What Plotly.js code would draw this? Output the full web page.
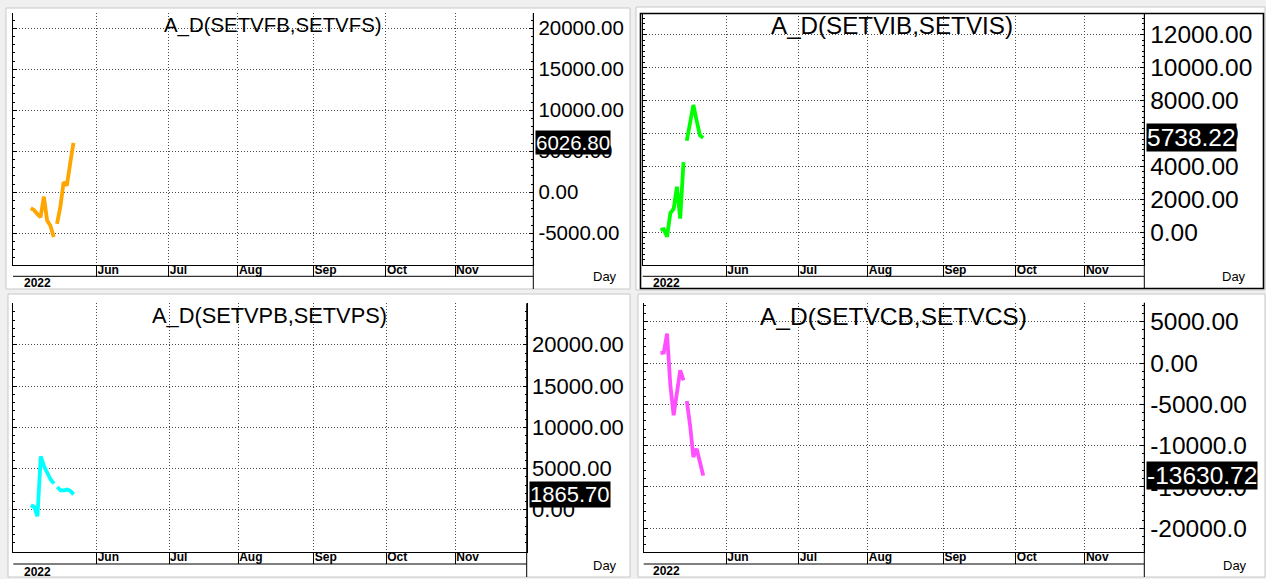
<!DOCTYPE html>
<html><head><meta charset="utf-8">
<script src="https://cdn.plot.ly/plotly-3.0.1.min.js"></script>
<style>html,body{margin:0;padding:0;background:#f0f0f0;overflow:hidden}#chart{width:1266px;height:579px}</style>
</head><body><div id="chart"></div>
<script>
// ---- data ----
const dates = ['2022-05-04','2022-05-05','2022-05-06','2022-05-09','2022-05-10','2022-05-11','2022-05-12',
               '2022-05-13','2022-05-16','2022-05-17','2022-05-18','2022-05-19','2022-05-20','2022-05-23'];
const breakAfter = '2022-05-13';   // line is not drawn between this day and the next
const vfValues = [-1940, -2150, -2630, -3040, -530, -3450, -4090, -5460, -3850, -1820, 1230, 830, 3520, 6026.80];
const viValues = [150, 200, -260, 1170, 1420, 2770, 840, 4260, 5560, 6650, 7730, 6780, 5880, 5738.22];
const vpValues = [545, 340, -790, 6480, 5260, 4380, 3660, 3170, 2760, 2360, 2360, 2450, 2280, 1865.70];
const vcValues = [1210, 1270, 3560, -2700, -6330, -3800, -880, -2100, -4600, -7550, -11380, -10360, -12000, -13630.72];

const titles = ['A_D(SETVFB,SETVFS)', 'A_D(SETVIB,SETVIS)', 'A_D(SETVPB,SETVPS)', 'A_D(SETVCB,SETVCS)'];
const monthTicks = ['2022-06-01','2022-07-01','2022-08-01','2022-09-01','2022-10-03','2022-11-01'];
const monthLabels = ['Jun','Jul','Aug','Sep','Oct','Nov'];
const yearLabel = '2022';
const periodLabel = 'Day';
const vfTicks = [-5000, 0, 5000, 10000, 15000, 20000];
const vfTickText = ['-5000.00','0.00','5000.00','10000.00','15000.00','20000.00'];
const viTicks = [0, 2000, 4000, 6000, 8000, 10000, 12000];
const viTickText = ['0.00','2000.00','4000.00','6000.00','8000.00','10000.00','12000.00'];
const vpTicks = [0, 5000, 10000, 15000, 20000, 25000];
const vpTickText = ['0.00','5000.00','10000.00','15000.00','20000.00',''];
const vcTicks = [-20000, -15000, -10000, -5000, 0, 5000];
const vcTickText = ['-20000.0','-15000.0','-10000.0','-5000.00','0.00','5000.00'];

// ---- layout geometry (pixels) ----
const W = 1266, H = 579;
const fx = p => p / W, fy = p => 1 - p / H;
const FONT = 'Arial, "Liberation Sans", sans-serif';
const GRID = '#4a4a4a', DOTS = '1px,2px';

const panels = [
  {vals: vfValues, ticks: vfTicks, text: vfTickText, color: '#FFA500',
   l: 13, r: 533.3, t: 13, b: 265, band: 276.3, bottom: 289, yr: [-8866, 21866],
   xr: ['2022-04-26 14:53', '2022-12-02 19:12'], tf: 20.5, ttf: 20.4, tx: 272.5, ty: 26,
   minor: 1000, year: [21.7, 283.3], day: [604.7, 276.7], bg: [6, 8, 630, 289]},
  {vals: viValues, ticks: viTicks, text: viTickText, color: '#00FF00',
   l: 642.7, r: 1144.3, t: 13.3, b: 265, band: 276.3, bottom: 288.5, yr: [-1975, 13290],
   xr: ['2022-04-26 14:24', '2022-11-25 01:12'], tf: 24.5, ttf: 24.2, tx: 892.3, ty: 26,
   minor: 1000 / 3, year: [651.3, 282.7], day: [1234.3, 276.7], bg: [636, 7, 1265, 290], frame: true},
  {vals: vpValues, ticks: vpTicks, text: vpTickText, color: '#00FFFF',
   l: 13.3, r: 526.7, t: 303.3, b: 551.7, band: 564, bottom: 577, yr: [-5087, 25030],
   xr: ['2022-04-26 15:36', '2022-11-30 16:48'], tf: 22, ttf: 21.8, tx: 269.2, ty: 315,
   minor: 1000, year: [21.7, 571.7], day: [604.7, 565.3], bg: [8, 294, 630, 577]},
  {vals: vcValues, ticks: vcTicks, text: vcTickText, color: '#FF50FF',
   l: 643.7, r: 1144.3, t: 302.7, b: 551.7, band: 564, bottom: 577, yr: [-22832, 7299],
   xr: ['2022-04-26 21:36', '2022-11-25 01:12'], tf: 24.5, ttf: 24.5, tx: 893.2, ty: 316,
   minor: 1000, year: [651.3, 571], day: [1234.5, 565.3], bg: [638, 294, 1265, 577]}
];

function segmented(vals) {
  const x = [], y = [];
  dates.forEach((d, i) => {
    x.push(d); y.push(vals[i]);
    if (d === breakAfter) { x.push(d); y.push(null); }
  });
  return {x, y};
}

const data = [], shapes = [], annotations = [];
const layout = {
  width: W, height: H, margin: {l: 0, r: 0, t: 0, b: 0},
  paper_bgcolor: '#f0f0f0', plot_bgcolor: '#ffffff', showlegend: false,
  font: {family: FONT, color: '#000'}
};

panels.forEach((p, k) => {
  const n = k + 1, xs = n === 1 ? '' : n, xa = 'x' + xs, ya = 'y' + xs;
  const seg = segmented(p.vals);
  data.push({type: 'scatter', mode: 'lines', x: seg.x, y: seg.y, xaxis: xa, yaxis: ya,
             connectgaps: false, line: {color: p.color, width: 3.8}, hoverinfo: 'skip'});

  layout['xaxis' + xs] = {
    domain: [fx(p.l), fx(p.r)], anchor: ya, type: 'date', range: p.xr,
    rangebreaks: [{bounds: ['sat', 'mon']}],
    tickmode: 'array', tickvals: monthTicks, ticktext: monthLabels,
    showgrid: true, gridcolor: GRID, griddash: DOTS, gridwidth: 1,
    ticks: 'outside', ticklen: 11, tickwidth: 1, tickcolor: '#000',
    showline: true, linecolor: '#000', linewidth: 1, zeroline: false,
    ticklabelposition: 'outside right', ticklabelstandoff: -6,
    tickfont: {family: FONT, size: 12, weight: 'bold', color: '#000'}, fixedrange: true
  };
  layout['yaxis' + xs] = {
    domain: [fy(p.b), fy(p.t)], anchor: xa, side: 'right', range: p.yr,
    tickmode: 'array', tickvals: p.ticks, ticktext: p.text,
    showgrid: true, gridcolor: GRID, griddash: DOTS, gridwidth: 1,
    ticks: 'inside', ticklen: 4, tickcolor: '#000', tickwidth: 1,
    showline: true, linecolor: '#000', linewidth: 1, mirror: 'allticks', zeroline: false,
    minor: {dtick: p.minor, tick0: 0, ticks: 'inside', ticklen: 2, tickcolor: '#000', showgrid: false},
    tickfont: {family: FONT, size: p.tf, color: '#000'}, fixedrange: true
  };

  // panel background
  shapes.push({type: 'rect', xref: 'paper', yref: 'paper', layer: 'below',
               x0: fx(p.bg[0]), x1: fx(p.bg[2]), y0: fy(p.bg[3]), y1: fy(p.bg[1]),
               fillcolor: '#ffffff', line: {color: '#c8c8c8', width: 1}});
  // date band bottom line
  shapes.push({type: 'line', xref: 'paper', yref: 'paper', x0: fx(p.l), x1: fx(p.r),
               y0: fy(p.band), y1: fy(p.band), line: {color: '#000', width: 1}});
  // price-scale separator
  shapes.push({type: 'line', xref: 'paper', yref: 'paper', x0: fx(p.r), x1: fx(p.r),
               y0: fy(p.bottom), y1: fy(p.t), line: {color: '#000', width: 1}});
  if (p.frame) {
    shapes.push({type: 'rect', xref: 'paper', yref: 'paper', x0: fx(640.5), x1: fx(1263.5),
                 y0: fy(288.5), y1: fy(13.5), line: {color: '#000', width: 1.6}});
  }

  annotations.push({xref: 'paper', yref: 'paper', x: fx(p.tx), y: fy(p.ty), text: titles[k],
                    showarrow: false, xanchor: 'center', yanchor: 'middle',
                    font: {family: FONT, size: p.ttf, color: '#000'}});
  annotations.push({xref: 'paper', yref: 'paper', x: fx(p.year[0]), y: fy(p.year[1]), text: yearLabel,
                    showarrow: false, xanchor: 'left', yanchor: 'middle',
                    font: {family: FONT, size: 12, weight: 'bold', color: '#000'}});
  annotations.push({xref: 'paper', yref: 'paper', x: fx(p.day[0]), y: fy(p.day[1]), text: periodLabel,
                    showarrow: false, xanchor: 'center', yanchor: 'middle',
                    font: {family: FONT, size: 13, color: '#000'}});
  const last = p.vals[p.vals.length - 1];
  annotations.push({xref: 'paper', yref: ya, x: fx(p.r + 2), y: last, text: last.toFixed(2),
                    showarrow: false, xanchor: 'left', yanchor: 'middle', bgcolor: '#000',
                    borderpad: 0, font: {family: FONT, size: p.tf, color: '#fff'}});
});

layout.shapes = shapes;
layout.annotations = annotations;
Plotly.newPlot('chart', data, layout, {staticPlot: true, displayModeBar: false});
</script>
</body></html>
